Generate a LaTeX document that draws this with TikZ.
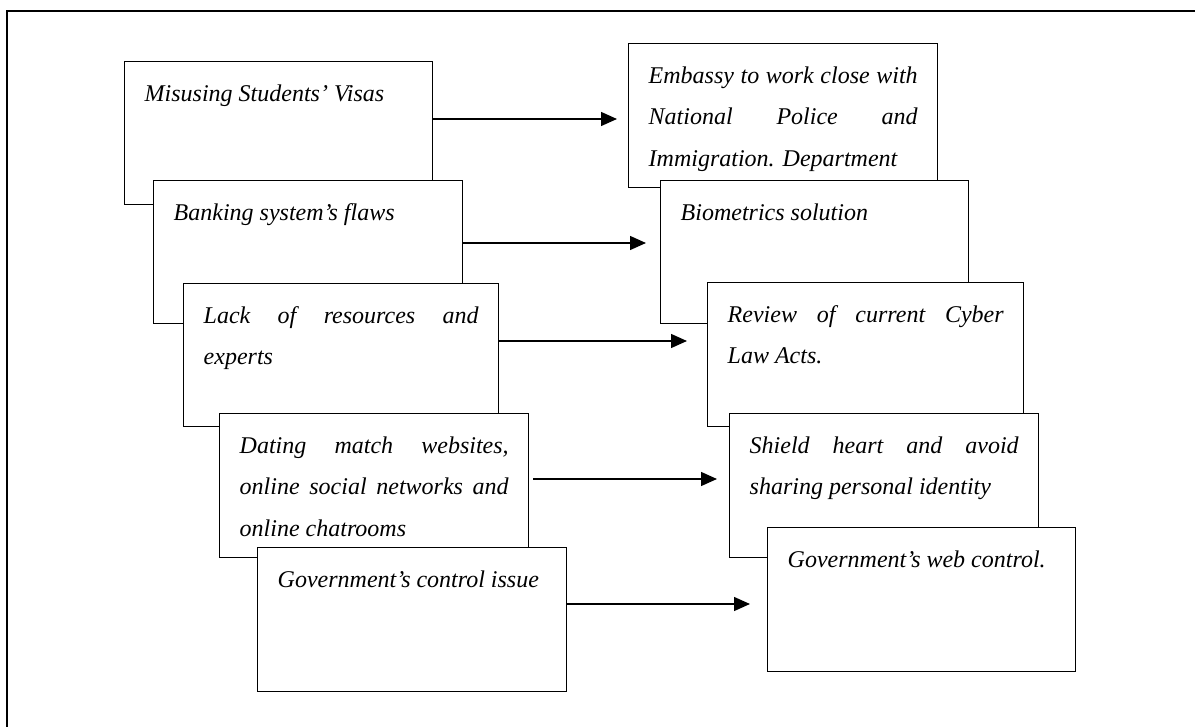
\documentclass[tikz,border=0pt]{standalone}
\usepackage{fontspec}
\setmainfont{Liberation Serif}
\usetikzlibrary{arrows.meta}
\hyphenpenalty=10000
\exhyphenpenalty=10000
\tikzset{
  issuebox/.style={draw, fill=white, line width=0.7pt, anchor=north west,
    inner xsep=10pt, inner ysep=0pt, font=\fontsize{12}{20.75}\selectfont\itshape},
  link/.style={line width=0.7pt, -{Triangle[length=8pt,width=7pt]}},
  outline/.style={line width=0.7pt}
}
% name, left, top, width, height (all in px), text
\newcommand{\putbox}[6]{%
  \pgfmathsetlengthmacro{\boxw}{#4*0.5pt}%
  \pgfmathsetlengthmacro{\boxh}{#5*0.5pt}%
  \pgfmathsetlengthmacro{\textw}{#4*0.5pt-20pt}%
  \node[issuebox, minimum width=\boxw, minimum height=\boxh] (#1) at (#2,#3)
    {\parbox[t][\boxh][t]{\textw}{\vspace*{5.25pt}\strut#6}};}

\begin{document}
\begin{tikzpicture}[x=0.5pt, y=-0.5pt]
    \useasboundingbox (0,0) rectangle (1195,727);
    \draw[outline] (7,727) -- (7,11) -- (1195,11);
    % problems
    \putbox{visas}{124}{61}{308}{143}{Misusing Students’ Visas}
    \putbox{banking}{153}{180}{309}{143}{Banking system’s flaws}
    \putbox{lack}{183}{283}{315}{143}{Lack of resources and\linebreak experts}
    \putbox{dating}{219}{413}{309}{144}{Dating match websites,\linebreak online social networks and\linebreak online chatrooms}
    \putbox{govissue}{257}{547}{309}{144}{Government’s control issue}
    % solutions
    \putbox{embassy}{628}{43}{309}{144}{Embassy to work close with\linebreak National Police and\linebreak Immigration. Department}
    \putbox{biometrics}{660}{180}{308}{143}{Biometrics solution}
    \putbox{review}{707}{282}{316}{144}{Review of current Cyber\linebreak Law Acts.}
    \putbox{shield}{729}{413}{309}{144}{Shield heart and avoid\linebreak sharing personal identity}
    \putbox{govweb}{767}{527}{308}{144}{Government’s web control.}
    % arrows
    \draw[link, shorten >=5.5pt] (visas.east |- 0,119) -- (embassy.west |- 0,119);
    \draw[link, shorten >=7pt] (banking.east |- 0,243) -- (biometrics.west |- 0,243);
    \draw[link, shorten >=10pt] (lack.east |- 0,341) -- (review.west |- 0,341);
    \draw[link, shorten <=2pt, shorten >=6pt] (dating.east |- 0,479) -- (shield.west |- 0,479);
    \draw[link, shorten >=8.5pt] (govissue.east |- 0,604) -- (govweb.west |- 0,604);
\end{tikzpicture}
\end{document}
